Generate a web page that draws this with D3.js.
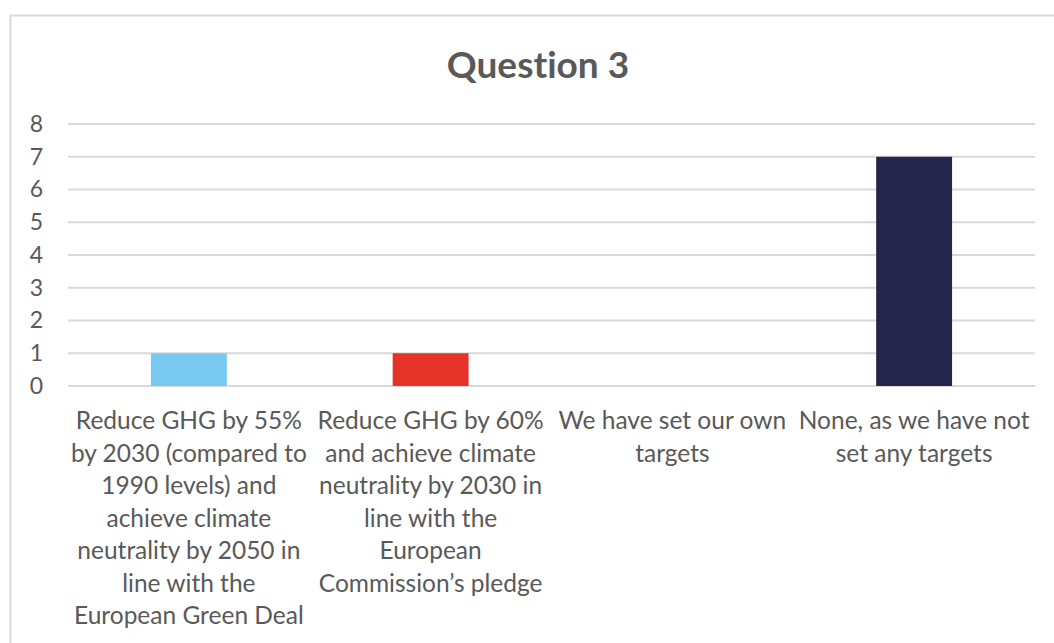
<!DOCTYPE html>
<html>
<head>
<meta charset="utf-8">
<script src="https://cdn.jsdelivr.net/npm/d3@7"></script>
<style>
  body { margin: 0; background: #fff; }
  text { font-family: Lato, "Open Sans", sans-serif; fill: #595959; font-variant-ligatures: none; font-feature-settings: "liga" 0; }
</style>
</head>
<body>
<div id="visual"></div>
<script>

///// DATA /////
var categories = [
	"Reduce GHG by 55%\nby 2030 (compared to\n1990 levels) and\nachieve climate\nneutrality by 2050 in\nline with the\nEuropean Green Deal",
	"Reduce GHG by 60%\nand achieve climate\nneutrality by 2030 in\nline with the\nEuropean\nCommission\u2019s pledge",
	"We have set our own\ntargets",
	"None, as we have not\nset any targets"
];
var values = [1, 1, 0, 7];
var barColors = ["#78caf2", "#e6332a", "#ffffff", "#25254c"];
var yTicks = [0, 1, 2, 3, 4, 5, 6, 7, 8];
var title = "Question 3";

///// DIMENSIONS /////
var W = 1054, H = 643;
var margins = { left: 68, right: 19, top: 124, bottom: 257 };
var width = W - margins.left - margins.right,
	height = H - margins.top - margins.bottom;

var svg = d3.select('#visual')
	.append('svg')
	.attr('width', W)
	.attr('height', H);

// chart frame
svg.append('rect')
	.attr('x', 10.5).attr('y', 15.5)
	.attr('width', W + 20).attr('height', H + 20)
	.attr('fill', '#fff')
	.attr('stroke', '#d9d9d9')
	.attr('stroke-width', 2);

svg.append('text')
	.attr('x', 538)
	.attr('y', 78)
	.attr('text-anchor', 'middle')
	.style('font-size', '37px')
	.style('font-weight', 'bold')
	.text(title);

var xScale = d3.scaleBand()
	.domain(d3.range(categories.length))
	.range([0, width]);

var yScale = d3.scaleLinear()
	.domain([0, 8])
	.range([height, 0]);

var g = svg.append('g')
	.attr('transform', `translate(${margins.left},${margins.top})`);

///// GRID /////
g.selectAll('.grid')
	.data(yTicks).enter().append('line')
	.attr('x1', 0).attr('x2', width)
	.attr('y1', d => yScale(d)).attr('y2', d => yScale(d))
	.attr('stroke', '#d9d9d9')
	.attr('stroke-width', 2);

///// Y AXIS /////
var yAxis = d3.axisLeft(yScale).tickValues(yTicks).tickSize(0).tickPadding(25);
var yG = g.append('g').call(yAxis);
yG.select('.domain').remove();
yG.selectAll('text')
	.style('font-size', '23px')
	.style('fill', '#595959')
	.style('font-family', 'Lato, sans-serif');

///// BARS /////
var barW = xScale.bandwidth() * 0.314;
g.selectAll('.bar')
	.data(values).enter().append('rect')
	.attr('x', (d, i) => xScale(i) + (xScale.bandwidth() - barW) / 2)
	.attr('width', barW)
	.attr('y', d => yScale(d))
	.attr('height', d => height - yScale(d))
	.attr('fill', (d, i) => barColors[i]);

///// X LABELS /////
var labels = g.selectAll('.xlabel')
	.data(categories).enter().append('text')
	.attr('text-anchor', 'middle')
	.attr('transform', (d, i) => `translate(${xScale(i) + xScale.bandwidth() / 2},${height + 43})`)
	.style('font-size', '24.5px');

labels.selectAll('tspan')
	.data(d => d.split('\n')).enter().append('tspan')
	.attr('x', 0)
	.attr('y', (d, i) => i * 32.5)
	.text(d => d);

</script>
</body>
</html>
